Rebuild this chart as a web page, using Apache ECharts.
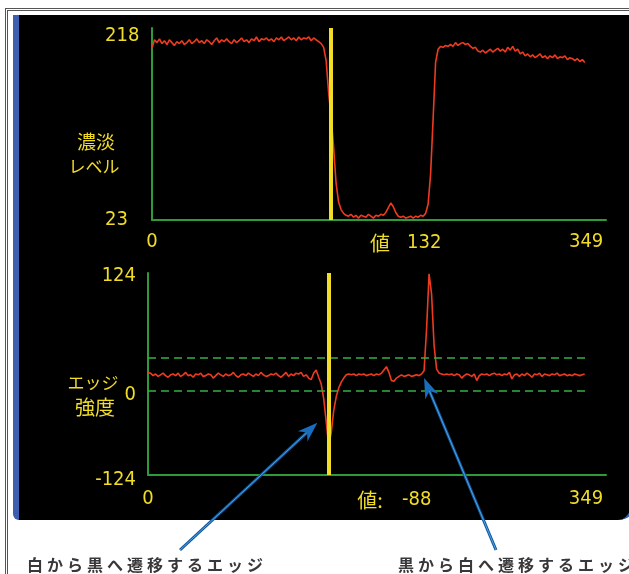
<!DOCTYPE html>
<html>
<head>
<meta charset="utf-8">
<script src="https://cdn.jsdelivr.net/npm/echarts@6/dist/echarts.min.js"></script>
<style>
  html, body { margin: 0; padding: 0; background: #fff; }
  body { width: 629px; height: 574px; position: relative; overflow: hidden; }
  #frame { position: absolute; left: 5px; top: 8px; width: 700px; height: 700px;
           border-left: 3px double #555; border-top: 3px double #555; }
  #panel { position: absolute; left: 13px; top: 15px; width: 613px; height: 505px; background: #000;
           border-left: 6px solid #3b5fae; border-right: 6px solid #3b5fae;
           border-bottom-left-radius: 6px; border-bottom-right-radius: 20px; }
  #chart { position: absolute; left: 0; top: 0; width: 629px; height: 574px; }
  .cap { position: absolute; top: 552px; line-height: 22px; white-space: nowrap;
         font: bold 16px "Noto Sans CJK JP", sans-serif; letter-spacing: 4px; color: #383838; }
</style>
</head>
<body>
<div id="frame"></div>
<div id="panel"></div>
<div id="chart"></div>
<div class="cap" style="left:27px">白から黒へ遷移するエッジ</div>
<div class="cap" style="left:398px">黒から白へ遷移するエッジ</div>
<script>
// sampled every 2 pixel-columns along the scan line (0..348)
const sampleStep = 2
const xTicks = [0, 349]
const levelTicks = [23, 218]
const edgeTicks = [-124, 0, 124]
const thresholds = [20, -20]
const cursorX = 144
// arrow targets in edge-chart data coords, tails in page pixels (under captions)
const arrowTargets = [[135, -60], [220, -5]]
const arrowTails = [[180, 550], [496, 550]]

const levels = [
  205, 214, 211, 215, 210, 213, 209, 214, 211, 208,
  212, 210, 213, 209, 211, 214, 210, 212, 215, 211,
  213, 210, 214, 212, 209, 213, 216, 211, 214, 212,
  215, 212, 210, 214, 211, 213, 216, 212, 214, 211,
  215, 213, 217, 212, 215, 214, 216, 213, 215, 212,
  216, 214, 217, 213, 215, 217, 214, 216, 213, 217,
  214, 216, 215, 217, 213, 216, 214, 212, 210, 206,
  192, 158, 132, 100, 62, 42, 34, 30, 28, 27,
  29, 26, 28, 25, 28, 27, 26, 29, 27, 25,
  28, 27, 29, 28, 31, 36, 41, 37, 31, 27,
  26, 27, 25, 26, 27, 25, 27, 26, 28, 27,
  30, 40, 72, 130, 190, 204, 207, 206, 208, 207,
  209, 207, 211, 208, 210, 211, 209, 210, 207, 205,
  206, 202, 201, 203, 200, 202, 204, 201, 203, 205,
  202, 204, 201, 206, 203, 207, 202, 204, 199, 201,
  197, 199, 196, 198, 195, 197, 199, 195, 197, 194,
  197, 195, 198, 194, 196, 195, 197, 193, 195, 194,
  192, 194, 191, 193, 190
]

const edges = [
  2, 1, -2, 0, -3, -1, 1, -2, -4, -1,
  0, -2, 1, -3, -1, 2, -2, -1, -4, 0,
  -1, 1, -3, -2, 0, -1, -5, -2, 1, -1,
  -3, 0, -2, -1, 2, -2, -4, -1, 0, -2,
  1, -1, -3, 0, -2, 2, -1, -3, -2, 0,
  -1, 1, -2, -4, -1, 2, -3, 0, -2, 1,
  0, 2, -3, -1, -5, -7, 1, 5, -4, -12,
  -30, -58, -88, -72, -45, -28, -17, -10, -5, -1,
  0, -1, 0, -2, 0, -1, 0, -2, -1, 0,
  -2, 0, -1, 1, 5, 9, 2, -8, -9, -5,
  -3, -1, -3, -2, -1, -3, -2, -1, -2, 0,
  4, 55, 123, 98, 35, 6, 1, 0, -1, 0,
  -1, 0, -2, 0, -1, -5, -2, 0, -1, -3,
  0, -8, -2, 0, -1, 0, -2, 0, 1, -1,
  0, -2, 0, -1, 2, -6, -1, 0, -3, 0,
  -2, 1, -1, -4, 0, -1, 1, -3, 0, -1,
  -2, 0, -1, 1, -2, -1, 0, -2, -1, -2,
  0, -1, -2, -1, 0
]

const yellow = '#f1dd26'
const green = '#2f9a3a'
const dashGreen = '#35b043'
const red = '#ee3b20'
const arrowBlue = '#1a6cbc'
const numFont = '"Liberation Sans Narrow", "DejaVu Sans Condensed", "Arial Narrow", sans-serif'
const jpFont = '"Noto Sans CJK JP", sans-serif'
const numSize = 20

const levelReadout = levels[cursorX / sampleStep]
const edgeReadout = edges[cursorX / sampleStep]

const chart = echarts.init(document.getElementById('chart'))

function axisX(i) {
  return {
    type: 'value', gridIndex: i, min: 0, max: 365,
    axisLine: { onZero: false, lineStyle: { color: green, width: 2 } },
    axisTick: { show: false },
    splitLine: { show: false },
    axisLabel: { customValues: xTicks, color: yellow, fontFamily: numFont, fontSize: numSize, margin: i ? 14 : 12 }
  }
}

const edgeRich = {
  z: { padding: [42, 0, 0, 0] },
  p: { padding: [6, 0, 0, 0] },
  m: { padding: [10, 0, 0, 0] }
}

function jpText(text, x, y, size) {
  return {
    type: 'text', x, y,
    style: { text, fill: yellow, font: `${size}px ${jpFont}`, align: 'center', verticalAlign: 'middle' }
  }
}
function numText(text, x, y) {
  return {
    type: 'text', x, y,
    style: { text, fill: yellow, font: `${numSize}px ${numFont}`, align: 'left', verticalAlign: 'middle' }
  }
}

chart.setOption({
  animation: false,
  grid: [
    { left: 152, top: 28, width: 454, height: 192 },
    { left: 148, top: 273, width: 458, height: 202 }
  ],
  xAxis: [axisX(0), axisX(1)],
  yAxis: [
    {
      type: 'value', gridIndex: 0, min: 23, max: 226.5,
      axisLine: { show: true, lineStyle: { color: green, width: 2 } },
      axisTick: { show: false }, splitLine: { show: false },
      axisLabel: { customValues: levelTicks, color: yellow, fontFamily: numFont, fontSize: numSize, align: 'left', margin: 47 }
    },
    {
      type: 'value', gridIndex: 1, min: -124, max: 124,
      axisLine: { show: true, onZero: false, lineStyle: { color: green, width: 2 } },
      axisTick: { show: false }, splitLine: { show: false },
      axisLabel: {
        customValues: edgeTicks, color: yellow, fontFamily: numFont, fontSize: numSize, align: 'right', margin: 12,
        formatter: v => v === 0 ? '{z|0}' : v > 0 ? `{p|${v}}` : `{m|${v}}`,
        rich: edgeRich
      }
    }
  ],
  series: [
    {
      type: 'line', xAxisIndex: 0, yAxisIndex: 0,
      data: levels.map((v, i) => [i * sampleStep, v]),
      symbol: 'none', lineStyle: { color: red, width: 1.6 },
      markLine: {
        silent: true, symbol: 'none', label: { show: false },
        lineStyle: { color: yellow, width: 4, type: 'solid' },
        data: [{ xAxis: cursorX }]
      }
    },
    {
      type: 'line', xAxisIndex: 1, yAxisIndex: 1,
      data: edges.map((v, i) => [i * sampleStep, v]),
      symbol: 'none', lineStyle: { color: red, width: 1.6 },
      markLine: {
        silent: true, symbol: 'none', label: { show: false },
        data: [
          ...thresholds.map(t => [
            { coord: [xTicks[0], t], lineStyle: { color: dashGreen, width: 1.6, type: [8, 5] } },
            { coord: [xTicks[1], t] }
          ]),
          { xAxis: cursorX, lineStyle: { color: yellow, width: 4, type: 'solid' } }
        ]
      }
    }
  ]
})

// arrows from the captions to the edges they describe
function arrow(tail, tip) {
  const dx = tip[0] - tail[0], dy = tip[1] - tail[1]
  const len = Math.hypot(dx, dy)
  const ux = dx / len, uy = dy / len
  const nx = -uy, ny = ux
  const L = 20, W = 7
  const bx = tip[0] - ux * L, by = tip[1] - uy * L
  const notch = [tip[0] - ux * L * 0.7, tip[1] - uy * L * 0.7]
  return [
    { type: 'line', shape: { x1: tail[0], y1: tail[1], x2: notch[0], y2: notch[1] },
      style: { stroke: '#12589e', lineWidth: 3 }, z: 100 },
    { type: 'line', shape: { x1: tail[0], y1: tail[1], x2: notch[0], y2: notch[1] },
      style: { stroke: '#4ea3e4', lineWidth: 1 }, z: 101 },
    { type: 'polygon', shape: { points: [tip, [bx + nx * W, by + ny * W], notch, [bx - nx * W, by - ny * W]] },
      style: { fill: arrowBlue }, z: 102 }
  ]
}

const arrows = arrowTargets.flatMap((t, i) =>
  arrow(arrowTails[i], chart.convertToPixel({ xAxisIndex: 1, yAxisIndex: 1 }, t)))

chart.setOption({
  graphic: [
    jpText('濃淡', 96, 142, 19),
    jpText('レベル', 94, 167, 17),
    jpText('エッジ', 93, 383, 17),
    jpText('強度', 95, 407, 20),
    jpText('値', 380, 243, 20),
    numText(String(levelReadout), 407, 243),
    jpText('値:', 370, 500, 20),
    numText(String(edgeReadout), 402, 500),
    ...arrows
  ]
})
</script>
</body>
</html>
